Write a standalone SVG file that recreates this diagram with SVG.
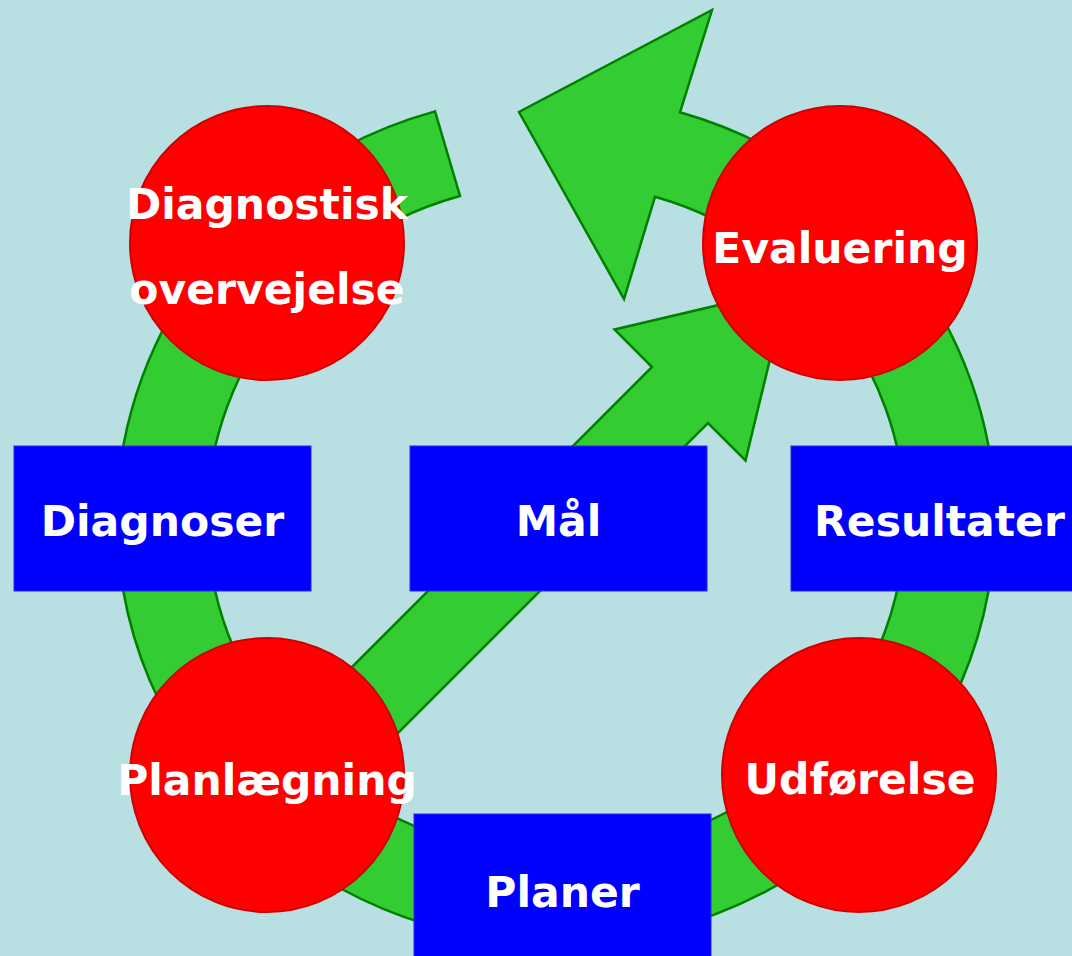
<svg xmlns="http://www.w3.org/2000/svg" width="1072" height="956" viewBox="0 0 1072 956">
  <style>
    .arrow { fill: #33CC33; stroke: #008000; stroke-width: 2.5; stroke-linejoin: miter; }
    .step { fill: #FF0000; stroke: #D00000; stroke-width: 2; }
    .box { fill: #0000FF; stroke: #2A2AE8; stroke-width: 1; }
    .lbl { font-family: "DejaVu Sans", Verdana, sans-serif; font-weight: bold; font-size: 42.5px; fill: #FFFFFF; text-anchor: middle; }
  </style>
  <rect x="0" y="0" width="1072" height="956" fill="#B8DFE2"/>
  <g id="connectors">
    <path id="cycle-arrow" class="arrow" d="M 680,112.3 L 712,10 L 519,112 L 624,299 L 655,196.8 A 349 336 0 1 1 460,196 L 435,111.4 A 439 424 0 1 0 680,112.3 Z"/>
    <path id="goal-arrow" class="arrow" d="M 300,719 L 652,367 L 614.5,329.5 L 787,289 L 745.5,460.5 L 708,423 L 356,775 Z"/>
  </g>
  <g id="node-diagnostisk">
    <circle class="step" cx="267" cy="243" r="137"/>
    <text class="lbl" x="267" y="219">Diagnostisk</text>
    <text class="lbl" x="267" y="304">overvejelse</text>
  </g>
  <g id="node-evaluering">
    <circle class="step" cx="840" cy="243" r="137"/>
    <text class="lbl" x="840" y="263">Evaluering</text>
  </g>
  <g id="node-planlaegning">
    <circle class="step" cx="267" cy="775" r="137"/>
    <text class="lbl" x="267" y="795">Planlægning</text>
  </g>
  <g id="node-udfoerelse">
    <circle class="step" cx="859" cy="775" r="137"/>
    <text class="lbl" x="860" y="794">Udførelse</text>
  </g>
  <g id="node-diagnoser">
    <rect class="box" x="14" y="446" width="297" height="145"/>
    <text class="lbl" x="162.5" y="536">Diagnoser</text>
  </g>
  <g id="node-maal">
    <rect class="box" x="410" y="446" width="297" height="145"/>
    <text class="lbl" x="558.5" y="536">Mål</text>
  </g>
  <g id="node-resultater">
    <rect class="box" x="791" y="446" width="297" height="145"/>
    <text class="lbl" x="939.5" y="536">Resultater</text>
  </g>
  <g id="node-planer">
    <rect class="box" x="414" y="814" width="297" height="145"/>
    <text class="lbl" x="562.5" y="907">Planer</text>
  </g>
</svg>
